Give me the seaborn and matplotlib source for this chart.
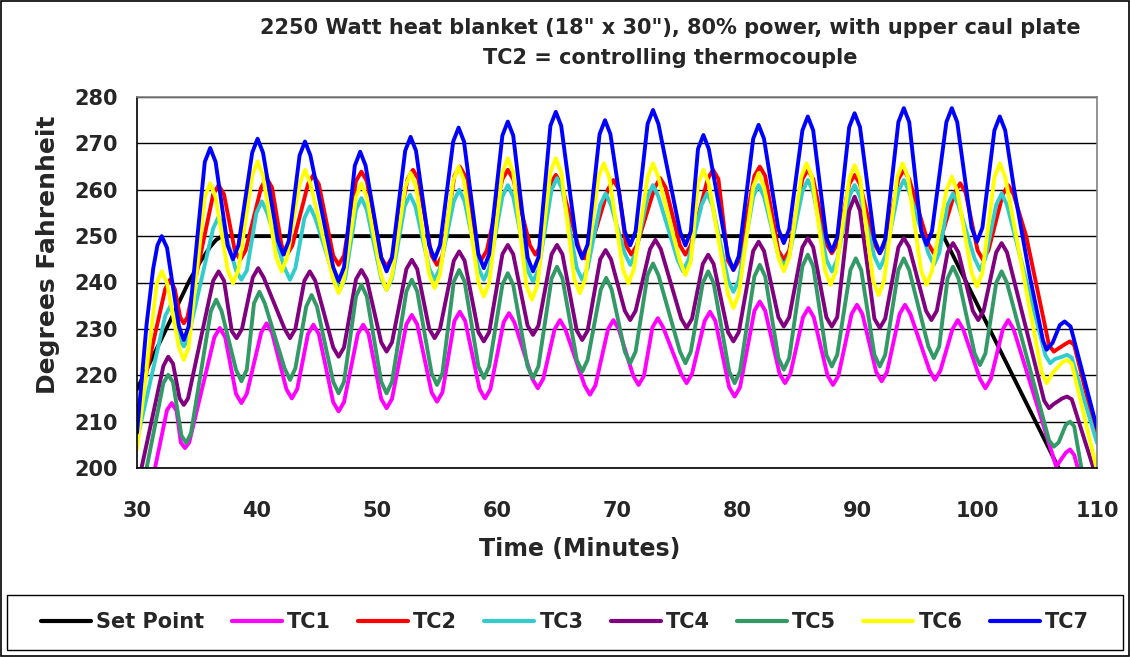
import pandas as pd
import seaborn as sns
import matplotlib.pyplot as plt
from matplotlib.patches import Rectangle

# Readings taken off the chart: each peak / trough with a point either side of it
setpoint_t = [30, 32.2, 34.4, 35.3, 36.1, 36.6, 37.1, 97.2, 106.8, 107.3]
setpoint_v = [217, 228.7, 240.6, 244.6, 247.7, 249.2, 250, 250, 200, 197.4]

tc1_t = [30, 31.5, 32.5, 32.9, 33.3, 33.65, 34.0, 34.35, 36.45, 36.9, 37.35, 38.25, 38.7, 39.15,
         40.35, 40.8, 41.25, 42.45, 42.9, 43.35, 44.25, 44.7, 45.15, 46.35, 46.8, 47.25,
         48.4, 48.85, 49.3, 50.35, 50.8, 51.25, 52.45, 52.9, 53.35, 54.55, 55.0, 55.45,
         56.45, 56.9, 57.35, 58.55, 59.0, 59.45, 60.55, 61.0, 61.45, 62.95, 63.4, 63.85,
         64.8, 65.25, 65.7, 67.3, 67.75, 68.2, 69.25, 69.7, 70.15, 71.35, 71.8, 72.25,
         72.95, 73.4, 73.85, 75.35, 75.8, 76.25, 77.3, 77.75, 78.2, 79.35, 79.8, 80.25,
         81.45, 81.9, 82.35, 83.55, 84.0, 84.45, 85.5, 85.95, 86.4, 87.55, 88.0, 88.45,
         89.55, 90.0, 90.45, 91.6, 92.05, 92.5, 93.55, 94.0, 94.45, 96.05, 96.5, 96.95,
         97.95, 98.4, 98.85, 100.25, 100.7, 101.15, 102.15, 102.6, 103.05, 106.6,
         107.4, 107.75, 108.1, 108.4, 110]
tc1_v = [185, 200, 212.5, 214, 212.3, 205.5, 204.3, 205.5, 228.2, 230.2, 228.2, 216, 214, 216,
         229.2, 231.2, 229.2, 217, 215, 217, 228.9, 230.9, 228.9, 214.2, 212.2, 214.2,
         228.9, 230.9, 228.9, 214.9, 212.9, 214.9, 231, 233, 231, 216.3, 214.3, 216.3,
         231.7, 233.7, 231.7, 217, 215, 217, 231.4, 233.4, 231.4, 219.2, 217.2, 219.2,
         229.9, 231.9, 229.9, 217.8, 215.8, 217.8, 229.9, 231.9, 229.9, 219.9, 217.9, 219.9,
         230.3, 232.3, 230.3, 220.3, 218.3, 220.3, 231.7, 233.7, 231.7, 217.4, 215.4, 217.4,
         233.9, 235.9, 233.9, 220.3, 218.3, 220.3, 232.5, 234.5, 232.5, 219.9, 217.9, 219.9,
         233.2, 235.2, 233.2, 220.7, 218.7, 220.7, 233.2, 235.2, 233.2, 221, 219, 221,
         229.9, 231.9, 229.9, 219.2, 217.2, 219.2, 229.9, 231.9, 229.9, 200.3,
         203.3, 204, 202.8, 200, 190]

tc2_t = [30, 32.35, 32.75, 33.15, 33.6, 33.9, 34.2, 36.35, 36.8, 37.25, 38.15, 38.6, 39.05,
         40.35, 40.8, 41.25, 42.05, 42.5, 42.95, 44.25, 44.7, 45.15, 46.35, 46.8, 47.25,
         48.25, 48.7, 49.15, 50.35, 50.8, 51.25, 52.55, 53.0, 53.45, 54.55, 55.0, 55.45,
         56.45, 56.9, 57.35, 58.25, 58.7, 59.15, 60.45, 60.9, 61.35, 62.75, 63.2, 63.65,
         64.45, 64.9, 65.35, 66.85, 67.3, 67.75, 69.25, 69.7, 70.15, 70.75, 71.2, 71.65,
         73.15, 73.6, 74.05, 75.25, 75.7, 76.15, 77.55, 78.0, 78.45, 79.25, 79.7, 80.15,
         81.45, 81.9, 82.35, 83.45, 83.9, 84.35, 85.45, 85.9, 86.35, 87.45, 87.9, 88.35,
         89.35, 89.8, 90.25, 91.45, 91.9, 92.35, 93.45, 93.9, 94.35, 95.95, 96.4, 96.85,
         98.15, 98.6, 99.05, 100.05, 100.5, 100.95, 102.15, 102.6, 103.05, 104.1,
         106.0, 106.4, 106.8, 107.4, 107.75, 108.1, 110]
tc2_v = [211.5, 238.6, 240.6, 238.6, 232.5, 231.2, 232.5, 259, 261, 259, 246.9, 244.9, 246.9,
         260.5, 262.5, 260.5, 248, 246, 248, 261.2, 263.2, 261.2, 245.8, 243.8, 245.8,
         261.9, 263.9, 261.9, 245.4, 243.4, 245.4, 262.3, 264.3, 262.3, 245.8, 243.8, 245.8,
         263, 265, 263, 246.9, 244.9, 246.9, 262.3, 264.3, 262.3, 248, 246, 248,
         261.2, 263.2, 261.2, 247.2, 245.2, 247.2, 260.1, 262.1, 260.1, 248, 246, 248,
         260.5, 262.5, 260.5, 248, 246, 248, 262.3, 264.3, 262.3, 244.7, 242.7, 244.7,
         263, 265, 263, 246.9, 244.9, 246.9, 262.3, 264.3, 262.3, 248.3, 246.3, 248.3,
         261.2, 263.2, 261.2, 248.3, 246.3, 248.3, 262.3, 264.3, 262.3, 248.3, 246.3, 248.3,
         259.4, 261.4, 259.4, 246.9, 244.9, 246.9, 259, 261, 259, 250,
         226.5, 225.1, 225.8, 226.8, 227.3, 226.5, 206.8]

tc3_t = [30, 32.35, 32.75, 33.15, 33.6, 33.9, 34.2, 36.35, 36.8, 37.25, 38.25, 38.7, 39.15,
         39.95, 40.4, 40.85, 42.3, 42.75, 43.2, 43.95, 44.4, 44.85, 46.45, 46.9, 47.35,
         48.25, 48.7, 49.15, 50.35, 50.8, 51.25, 52.3, 52.75, 53.2, 54.35, 54.8, 55.25,
         56.4, 56.85, 57.3, 58.45, 58.9, 59.35, 60.45, 60.9, 61.35, 62.55, 63.0, 63.45,
         64.55, 65.0, 65.45, 66.65, 67.1, 67.55, 68.6, 69.05, 69.5, 70.65, 71.1, 71.55,
         72.55, 73.0, 73.45, 75.05, 75.5, 75.95, 77.05, 77.5, 77.95, 79.25, 79.7, 80.15,
         81.35, 81.8, 82.25, 83.45, 83.9, 84.35, 85.45, 85.9, 86.35, 87.45, 87.9, 88.35,
         89.35, 89.8, 90.25, 91.45, 91.9, 92.35, 93.45, 93.9, 94.35, 95.95, 96.4, 96.85,
         97.55, 98.0, 98.45, 99.8, 100.25, 100.7, 101.6, 102.05, 102.5,
         105.7, 106.1, 106.5, 107.1, 107.5, 107.9, 110]
tc3_v = [206, 232.8, 234.8, 232.8, 227.5, 226.2, 227.5, 251.7, 254.2, 251.7, 242.6, 240.6, 242.6,
         255, 257.5, 255, 243.1, 240.6, 243.1, 253.9, 256.4, 253.9, 240.9, 238.4, 240.9,
         255.7, 258.2, 255.7, 240.9, 238.4, 240.9, 256.4, 258.9, 256.4, 243.1, 240.6, 243.1,
         257.5, 260, 257.5, 243.1, 240.6, 243.1, 258.5, 261, 258.5, 242.7, 240.2, 242.7,
         260, 262.5, 260, 243.1, 240.6, 243.1, 256.7, 259.2, 256.7, 246.3, 243.8, 246.3,
         258.5, 261, 258.5, 244.9, 242.4, 244.9, 256.7, 259.2, 256.7, 240.5, 238, 240.5,
         258.5, 261, 258.5, 245.9, 243.4, 245.9, 259.6, 262.1, 259.6, 244.9, 242.4, 244.9,
         258.5, 261, 258.5, 245.6, 243.1, 245.6, 259.6, 262.1, 259.6, 246.3, 243.8, 246.3,
         256.7, 259.2, 256.7, 245.2, 242.7, 245.2, 256.7, 259.2, 256.7,
         224.3, 222.6, 223.5, 224, 224.4, 223.8, 205.4]

tc4_t = [30, 30.4, 32.2, 32.6, 33.0, 33.55, 33.9, 34.25, 36.35, 36.8, 37.25, 37.9, 38.3, 38.75,
         39.65, 40.1, 40.55, 42.3, 42.75, 43.2, 43.95, 44.4, 44.85, 46.35, 46.8, 47.25,
         48.25, 48.7, 49.15, 50.35, 50.8, 51.25, 52.45, 52.9, 53.35, 54.35, 54.8, 55.25,
         56.4, 56.85, 57.3, 58.45, 58.9, 59.35, 60.45, 60.9, 61.35, 62.55, 63.0, 63.45,
         64.55, 65.0, 65.45, 66.65, 67.1, 67.55, 68.6, 69.05, 69.5, 70.65, 71.1, 71.55,
         72.75, 73.2, 73.65, 75.35, 75.8, 76.25, 77.15, 77.6, 78.05, 79.25, 79.7, 80.15,
         81.35, 81.8, 82.25, 83.45, 83.9, 84.35, 85.45, 85.9, 86.35, 87.45, 87.9, 88.35,
         89.35, 89.8, 90.25, 91.45, 91.9, 92.35, 93.45, 93.9, 94.35, 95.75, 96.2, 96.65,
         97.55, 98.0, 98.45, 99.65, 100.1, 100.55, 101.6, 102.05, 102.5,
         105.6, 106.0, 106.4, 107.1, 107.5, 107.9, 109.7, 110]
tc4_v = [197, 200.3, 222, 224, 222.5, 215, 213.6, 215, 240.4, 242.4, 240.4, 229.5, 228, 230,
         241.1, 243.1, 241.1, 230, 228, 230, 240.4, 242.4, 240.4, 226, 224, 226,
         240.7, 242.7, 240.7, 227.1, 225.1, 227.1, 242.9, 244.9, 242.9, 230, 228, 230,
         244.7, 246.7, 244.7, 229.3, 227.3, 229.3, 246.1, 248.1, 246.1, 230.7, 228.7, 230.7,
         246.1, 248.1, 246.1, 229.6, 227.6, 229.6, 245, 247, 245, 233.9, 231.9, 233.9,
         247.2, 249.2, 247.2, 232.2, 230.2, 232.2, 244, 246, 244, 229.3, 227.3, 229.3,
         246.8, 248.8, 246.8, 232.5, 230.5, 232.5, 247.6, 249.6, 247.6, 232.5, 230.5, 232.5,
         255.5, 258.5, 255.5, 232.2, 230.2, 232.2, 247.6, 249.6, 247.6, 233.9, 231.9, 233.9,
         246.5, 248.5, 246.5, 233.9, 231.9, 233.9, 246.5, 248.5, 246.5,
         214.5, 212.9, 213.8, 215, 215.4, 214.8, 200, 199]

tc5_t = [30, 30.8, 32.2, 32.6, 33.0, 33.7, 34.1, 34.5, 36.15, 36.6, 37.05, 38.25, 38.7, 39.15,
         39.75, 40.2, 40.65, 42.3, 42.75, 43.2, 44.1, 44.55, 45.0, 46.35, 46.8, 47.25,
         48.25, 48.7, 49.15, 50.35, 50.8, 51.25, 52.45, 52.9, 53.35, 54.55, 55.0, 55.45,
         56.4, 56.85, 57.3, 58.45, 58.9, 59.35, 60.45, 60.9, 61.35, 62.55, 63.0, 63.45,
         64.55, 65.0, 65.45, 66.65, 67.1, 67.55, 68.65, 69.1, 69.55, 70.65, 71.1, 71.55,
         72.55, 73.0, 73.45, 75.25, 75.7, 76.15, 77.15, 77.6, 78.05, 79.35, 79.8, 80.25,
         81.45, 81.9, 82.35, 83.45, 83.9, 84.35, 85.45, 85.9, 86.35, 87.45, 87.9, 88.35,
         89.45, 89.9, 90.35, 91.45, 91.9, 92.35, 93.45, 93.9, 94.35, 95.95, 96.4, 96.85,
         97.55, 98.0, 98.45, 99.8, 100.25, 100.7, 101.6, 102.05, 102.5,
         106.0, 106.4, 106.8, 107.4, 107.75, 108.1, 108.7, 110]
tc5_v = [192, 200, 218.3, 220.1, 218.5, 207, 205.4, 207.5, 233.8, 236.3, 233.8, 221.2, 218.7, 221.2,
         235.5, 238, 235.5, 221.5, 219, 221.5, 234.8, 237.3, 234.8, 218.6, 216.1, 218.6,
         237, 239.5, 237, 218.6, 216.1, 218.6, 238.1, 240.6, 238.1, 220.4, 217.9, 220.4,
         240.2, 242.7, 240.2, 221.9, 219.4, 221.9, 239.5, 242, 239.5, 221.9, 219.4, 221.9,
         240.9, 243.4, 240.9, 223.3, 220.8, 223.3, 238.5, 241, 238.5, 225.1, 222.6, 225.1,
         241.6, 244.1, 241.6, 225.1, 222.6, 225.1, 239.9, 242.4, 239.9, 220.8, 218.3, 220.8,
         241.3, 243.8, 241.3, 223.7, 221.2, 223.7, 243.5, 246, 243.5, 224.4, 221.9, 224.4,
         242.7, 245.2, 242.7, 224.4, 221.9, 224.4, 242.7, 245.2, 242.7, 226.2, 223.7, 226.2,
         240.9, 243.4, 240.9, 224.7, 222.2, 224.7, 239.9, 242.4, 239.9,
         206, 204.6, 205.5, 209.3, 210, 209, 200, 194]

tc6_t = [30, 31.65, 32.06, 32.5, 33.5, 33.9, 34.3, 35.65, 36.1, 36.55, 37.55, 38.0, 38.45,
         39.6, 40.05, 40.5, 41.6, 42.05, 42.5, 43.55, 44.0, 44.45, 46.35, 46.8, 47.25,
         48.25, 48.7, 49.15, 50.35, 50.8, 51.25, 52.35, 52.8, 53.25, 54.35, 54.8, 55.25,
         56.35, 56.8, 57.25, 58.45, 58.9, 59.35, 60.45, 60.9, 61.35, 62.45, 62.9, 63.35,
         64.45, 64.9, 65.35, 66.45, 66.9, 67.35, 68.45, 68.9, 69.35, 70.5, 70.95, 71.4,
         72.55, 73.0, 73.45, 75.25, 75.7, 76.15, 76.75, 77.2, 77.65, 79.25, 79.7, 80.15,
         81.35, 81.8, 82.25, 83.45, 83.9, 84.35, 85.35, 85.8, 86.25, 87.35, 87.8, 88.25,
         89.35, 89.8, 90.25, 91.35, 91.8, 92.25, 93.35, 93.8, 94.25, 95.35, 95.8, 96.25,
         97.45, 97.9, 98.35, 99.55, 100.0, 100.45, 101.45, 101.9, 102.35,
         105.4, 105.8, 106.3, 107.1, 107.5, 107.9, 110]
tc6_v = [204, 239.9, 242.4, 239.9, 226, 223.3, 226, 258.4, 261.4, 258.4, 242.8, 239.8, 242.8,
         263.1, 266.1, 263.1, 245.4, 242.4, 245.4, 261.3, 264.3, 261.3, 240.7, 237.7, 240.7,
         258.4, 261.4, 258.4, 241.4, 238.4, 241.4, 260.6, 263.6, 260.6, 241.8, 238.8, 241.8,
         262, 265, 262, 240, 237, 240, 263.8, 266.8, 263.8, 239.3, 236.3, 239.3,
         263.8, 266.8, 263.8, 240.7, 237.7, 240.7, 262.7, 265.7, 262.7, 242.8, 239.8, 242.8,
         262.7, 265.7, 262.7, 244.6, 241.6, 244.6, 261.3, 264.3, 261.3, 237.5, 234.5, 237.5,
         260.6, 263.6, 260.6, 245.4, 242.4, 245.4, 262.7, 265.7, 262.7, 242.5, 239.5, 242.5,
         262.3, 265.3, 262.3, 240.3, 237.3, 240.3, 262.7, 265.7, 262.7, 242.5, 239.5, 242.5,
         259.8, 262.8, 259.8, 242.1, 239.1, 242.1, 262.7, 265.7, 262.7,
         220.5, 218.3, 220.5, 222.8, 223.3, 222.5, 199.5]

tc7_t = [30, 30.8, 31.35, 31.7, 32.06, 32.5, 33.5, 33.9, 34.3, 35.0, 35.65, 36.1, 36.55,
         37.55, 38.0, 38.45, 39.6, 40.05, 40.5, 41.75, 42.2, 42.65, 43.55, 44.0, 44.45,
         46.35, 46.8, 47.25, 48.15, 48.6, 49.05, 50.35, 50.8, 51.25, 52.35, 52.8, 53.25,
         54.35, 54.8, 55.25, 56.35, 56.8, 57.25, 58.45, 58.9, 59.35, 60.45, 60.9, 61.35,
         62.55, 63.0, 63.45, 64.45, 64.9, 65.35, 66.65, 67.1, 67.55, 68.55, 69.0, 69.45,
         70.65, 71.1, 71.55, 72.55, 73.0, 73.45, 75.25, 75.7, 76.15, 76.75, 77.2, 77.65,
         79.25, 79.7, 80.15, 81.35, 81.8, 82.25, 83.45, 83.9, 84.35, 85.45, 85.9, 86.35,
         87.45, 87.9, 88.35, 89.35, 89.8, 90.25, 91.45, 91.9, 92.35, 93.45, 93.9, 94.35,
         95.35, 95.8, 96.25, 97.45, 97.9, 98.35, 99.55, 100.0, 100.45, 101.45, 101.9, 102.35,
         103.1, 104.4, 105.5, 105.8, 106.3, 106.9, 107.3, 107.8, 110]
tc7_v = [207.6, 231, 243, 248, 250, 247.5, 230.5, 227.6, 230.5, 249, 266, 269, 266,
         248, 245, 248, 268, 271, 268, 249, 246, 249, 267.4, 270.4, 267.4,
         243.3, 240.3, 243.3, 265.2, 268.2, 265.2, 245.4, 242.4, 245.4, 268.4, 271.4, 268.4,
         248, 245, 248, 270.4, 273.4, 270.4, 246.1, 243.1, 246.1, 271.7, 274.7, 271.7,
         245.4, 242.4, 245.4, 273.8, 276.8, 273.8, 248.2, 245.2, 248.2, 272, 275, 272,
         251, 248, 251, 274.2, 277.2, 274.2, 251, 248, 251, 268.8, 271.8, 268.8,
         245.7, 242.7, 245.7, 271, 274, 271, 251.5, 248.5, 251.5, 272.8, 275.8, 272.8,
         249.7, 246.7, 249.7, 273.5, 276.5, 273.5, 249.3, 246.3, 249.3, 274.6, 277.6, 274.6,
         251.1, 248.1, 251.1, 274.6, 277.6, 274.6, 251.8, 248.8, 251.8, 272.8, 275.8, 272.8,
         260, 241.3, 227.5, 225.5, 227, 230.8, 231.6, 230.5, 208.6]

names = ["Set Point", "TC1", "TC2", "TC3", "TC4", "TC5", "TC6", "TC7"]
colors = ["#000000", "#FF00FF", "#FF0000", "#33CCCC", "#800080", "#339966", "#FFFF00", "#0000FF"]
series = [(setpoint_t, setpoint_v), (tc1_t, tc1_v), (tc2_t, tc2_v), (tc3_t, tc3_v),
          (tc4_t, tc4_v), (tc5_t, tc5_v), (tc6_t, tc6_v), (tc7_t, tc7_v)]

frames = []
for name, (t, v) in zip(names, series):
    frames.append(pd.DataFrame({"time": t, "temp": v, "series": name}))
df = pd.concat(frames, ignore_index=True)

sns.set_style("white")
plt.rcParams["font.family"] = ["DejaVu Sans"]
plt.rcParams["font.weight"] = "bold"

fig = plt.figure(figsize=(11.3, 6.57), dpi=100)
ax = fig.add_axes([137 / 1130, 1 - 468 / 657, 960 / 1130, 371 / 657])

sns.lineplot(data=df, x="time", y="temp", hue="series", hue_order=names,
             palette=dict(zip(names, colors)), estimator=None, sort=True,
             linewidth=2.8, ax=ax, legend=True)
for line in ax.get_lines():
    line.set_solid_joinstyle("round")

ax.set_xlim(30, 110)
ax.set_ylim(200, 280)
ax.set_xticks(range(30, 111, 10))
ax.set_yticks(range(200, 281, 10))
ax.grid(axis="y", color="black", linewidth=1)
ax.set_axisbelow(True)
for side in ["top", "right"]:
    ax.spines[side].set_color("#808080")
for side in ["left", "bottom"]:
    ax.spines[side].set_color("black")
for sp in ax.spines.values():
    sp.set_linewidth(1.2)
ax.tick_params(axis="both", direction="out", length=6, width=1, color="black", labelsize=15)
ax.tick_params(axis="x", pad=18)
ax.tick_params(axis="y", pad=8)
ax.set_xlabel("Time (Minutes)", fontsize=17, fontweight="bold")
ax.set_ylabel("Degrees Fahrenheit", fontsize=18, fontweight="bold")
ax.xaxis.set_label_coords((580 - 137) / 960, (468 - 549) / 371)
ax.yaxis.set_label_coords((48 - 137) / 960, (468 - 255) / 371)
ax.xaxis.label.set_va("center")
ax.yaxis.label.set_va("center")

fig.text(670 / 1130, 1 - 28 / 657, "2250 Watt heat blanket (18\" x 30\"), 80% power, with upper caul plate",
         ha="center", va="center", fontsize=15, fontweight="bold")
fig.text(670 / 1130, 1 - 58 / 657, "TC2 = controlling thermocouple",
         ha="center", va="center", fontsize=15, fontweight="bold")

handles, labels = ax.get_legend_handles_labels()
ax.get_legend().remove()
leg = fig.legend(handles, labels, loc="center", ncol=8,
                 bbox_to_anchor=(7 / 1130, 7 / 657, 1116 / 1130, 55 / 657),
                 frameon=False, fontsize=15,
                 handlelength=2.4, handletextpad=0.25, columnspacing=1.3, borderaxespad=0)
for line in leg.get_lines():
    line.set_linewidth(3)

fig.patches.append(Rectangle((7 / 1130, 7 / 657), 1116 / 1130, 55 / 657, transform=fig.transFigure,
                             fill=False, edgecolor="black", linewidth=1))
fig.patches.append(Rectangle((0.001, 0.001), 0.998, 0.998, transform=fig.transFigure,
                             fill=False, edgecolor="black", linewidth=1.2))

fig.savefig("out.png", dpi=100)
